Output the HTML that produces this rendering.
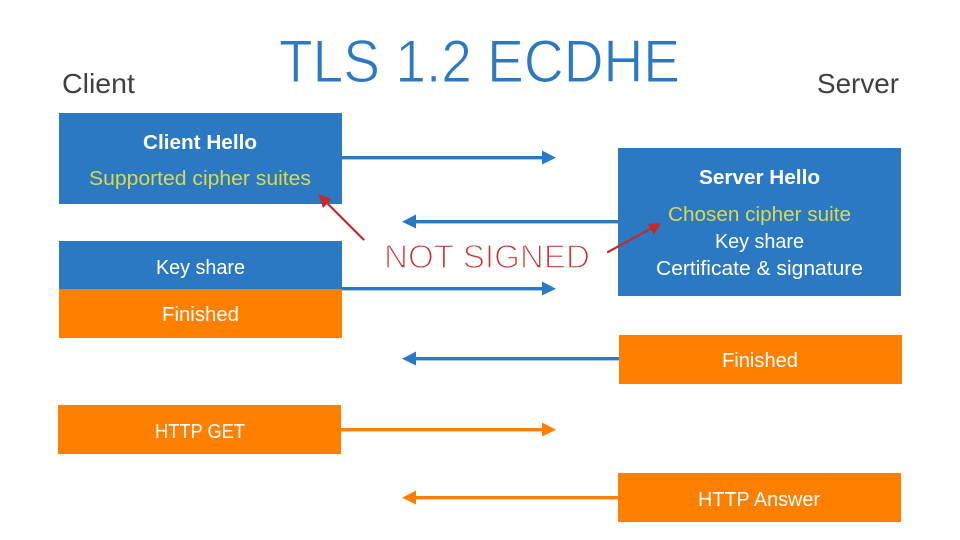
<!DOCTYPE html>
<html>
<head>
<meta charset="utf-8">
<style>
html,body{margin:0;padding:0;background:#fff}
svg{display:block}
text{font-family:"Liberation Sans",sans-serif}
</style>
</head>
<body>
<svg width="960" height="540" viewBox="0 0 960 540" xmlns="http://www.w3.org/2000/svg">
<rect width="960" height="540" fill="#fff"/>
<!-- boxes -->
<rect x="59" y="113" width="283" height="91" fill="#2b79c2"/>
<rect x="59" y="241" width="283" height="48" fill="#2b79c2"/>
<rect x="59" y="289" width="283" height="49" fill="#ff7f00"/>
<rect x="58" y="405" width="283" height="49" fill="#ff7f00"/>
<rect x="618" y="148" width="283" height="148" fill="#2b79c2"/>
<rect x="619" y="335" width="283" height="49" fill="#ff7f00"/>
<rect x="618" y="473" width="283" height="49" fill="#ff7f00"/>
<!-- arrows -->
<g fill="#2b79c2">
<rect x="342" y="156" width="203" height="3.4"/><polygon points="542,150.5 556,157.7 542,164.5"/>
<rect x="414" y="220" width="204" height="3.4"/><polygon points="416,214.5 402,221.7 416,228.5"/>
<rect x="342" y="287" width="203" height="3.4"/><polygon points="542,281.5 556,288.7 542,295.5"/>
<rect x="414" y="357" width="205" height="3.4"/><polygon points="416,351.5 402,358.7 416,365.5"/>
</g>
<g fill="#ff7f00">
<rect x="341" y="428" width="204" height="3.4"/><polygon points="542,422.5 556,429.7 542,436.5"/>
<rect x="414" y="496" width="204" height="3.4"/><polygon points="416,490.5 402,497.7 416,504.5"/>
</g>
<!-- title and headers -->
<text x="279" y="82" font-size="60" fill="#2b79c2" stroke="#fff" stroke-width="1.1" textLength="401" lengthAdjust="spacingAndGlyphs">TLS 1.2 ECDHE</text>
<text x="62" y="93" font-size="28" fill="#404040" textLength="73" lengthAdjust="spacingAndGlyphs">Client</text>
<text x="817" y="93" font-size="28" fill="#404040" textLength="82" lengthAdjust="spacingAndGlyphs">Server</text>
<!-- box labels -->
<g font-size="20" fill="#fff">
<text x="143" y="149" font-weight="bold" textLength="114" lengthAdjust="spacingAndGlyphs">Client Hello</text>
<text x="89" y="185" fill="#dcd84e" textLength="222" lengthAdjust="spacingAndGlyphs">Supported cipher suites</text>
<text x="156" y="274" textLength="89" lengthAdjust="spacingAndGlyphs">Key share</text>
<text x="162" y="321" textLength="77" lengthAdjust="spacingAndGlyphs">Finished</text>
<text x="155" y="438" textLength="90" lengthAdjust="spacingAndGlyphs">HTTP GET</text>
<text x="699" y="184" font-weight="bold" textLength="121" lengthAdjust="spacingAndGlyphs">Server Hello</text>
<text x="668" y="221" fill="#dcd84e" textLength="183" lengthAdjust="spacingAndGlyphs">Chosen cipher suite</text>
<text x="715" y="248" textLength="89" lengthAdjust="spacingAndGlyphs">Key share</text>
<text x="656" y="275" textLength="207" lengthAdjust="spacingAndGlyphs">Certificate &amp; signature</text>
<text x="722" y="367" textLength="76" lengthAdjust="spacingAndGlyphs">Finished</text>
<text x="698" y="506" textLength="122" lengthAdjust="spacingAndGlyphs">HTTP Answer</text>
</g>
<!-- handwritten annotation -->
<text x="384" y="268" font-size="33" fill="#c9302c" stroke="#fff" stroke-width="1.4" textLength="206" lengthAdjust="spacingAndGlyphs">NOT SIGNED</text>
<g stroke="#bf2c2c" stroke-width="2.2" stroke-linecap="round" fill="none">
<line x1="363.5" y1="239.5" x2="324" y2="200"/>
<line x1="608" y1="252" x2="652" y2="228"/>
</g>
<polygon points="318,194 332,199 323,208" fill="#bf2c2c"/>
<polygon points="661,223 648,224 654,235" fill="#bf2c2c"/>
</svg>
</body>
</html>
